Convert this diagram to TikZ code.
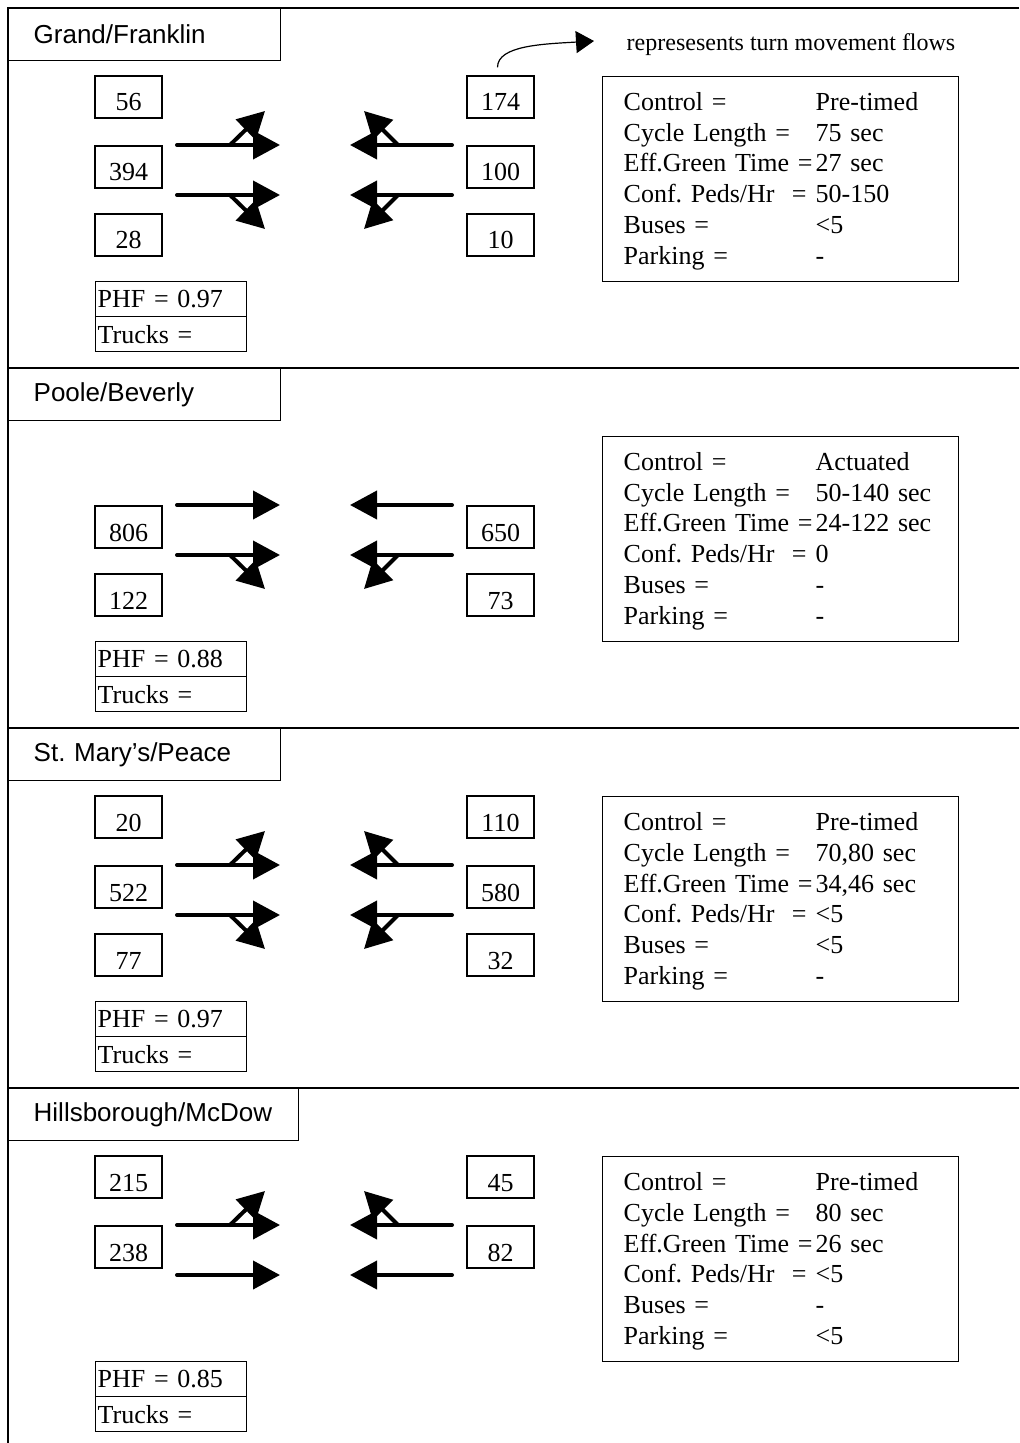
\documentclass[tikz,border=0pt]{standalone}
\usepackage{fontspec}
\setmainfont{Liberation Serif}
\newfontfamily\headfont{Liberation Sans}
\usetikzlibrary{arrows.meta}
\frenchspacing

\newcommand{\inforow}[2]{\makebox[96pt][l]{#1}#2}

\begin{document}
\begin{tikzpicture}[
  x=0.5pt, y=-0.5pt, line width=0.7pt,
  font=\fontsize{13}{15.4}\selectfont,
  title/.style={draw, anchor=north west, text width=#1, minimum height=26pt,
    inner xsep=12.5pt, align=left, font=\headfont\fontsize{13}{15}\selectfont},
  title/.default=111pt,
  numbox/.style={draw, minimum width=33.5pt, minimum height=21pt, inner sep=0pt,
    text height=14pt, text depth=0pt},
  info/.style={draw, anchor=north west, text width=157pt, inner xsep=10.5pt,
    minimum height=102.5pt, text height=11pt, align=left},
  phf/.style={draw, anchor=north west, text width=73.5pt, inner xsep=1pt, inner ysep=0pt,
    minimum height=17.5pt, align=left},
  mvt/.style={line width=2pt, line cap=round, -{Triangle[length=13.5pt,width=14pt]}},
  legarrow/.style={line width=0.6pt, -{Triangle[length=9pt,width=11pt]}}]
  \useasboundingbox (0,0) rectangle (1019,1443);

  % frame and section rules
  \draw (1019,8) -- (8,8) -- (8,1443);
  \draw (8,368) -- (1019,368);
  \draw (8,728) -- (1019,728);
  \draw (8,1088) -- (1019,1088);

  % Grand/Franklin
  \node[title] (gftitle) at (8,8) {Grand/Franklin};
  \node[numbox] (gfE1) at (128.5,97) {56};
  \node[numbox] (gfE2) at (128.5,167) {394};
  \node[numbox] (gfE3) at (128.5,235) {28};
  \node[numbox] (gfW1) at (500.5,97) {174};
  \node[numbox] (gfW2) at (500.5,167) {100};
  \node[numbox] (gfW3) at (500.5,235) {10};
  \draw[mvt] (177,145) -- (280,145);
  \draw[mvt] (177,195) -- (280,195);
  \draw[mvt] (452,145) -- (350,145);
  \draw[mvt] (452,195) -- (350,195);
  \draw[mvt] (230,145) -- (265,111);
  \draw[mvt] (230,195) -- (265,229);
  \draw[mvt] (398,145) -- (364,111);
  \draw[mvt] (398,195) -- (364,229);
  \node[info] (gfinfo) at (602,76) {\inforow{Control =}{Pre-timed}\\
    \inforow{Cycle Length =}{75 sec}\\
    \inforow{Eff.Green Time =}{27 sec}\\
    \inforow{Conf. Peds/Hr\ \ =}{50-150}\\
    \inforow{Buses =}{<5}\\
    \inforow{Parking =}{-}};
  \node[phf] (gfphf) at (95,281) {PHF = 0.97};
  \node[phf] (gftrk) at (95,316) {Trucks =};

  % legend
  \coordinate (legtip) at (594,41);
  \node[font=\fontsize{12}{14}\selectfont] (legend) at (791,45) {represesents turn movement flows};
  \draw[legarrow] ([xshift=-1.5pt,yshift=4pt]gfW1.north) .. controls +(0,-22) and +(-50,3) .. (legtip);

  % Poole/Beverly
  \begin{scope}[shift={(0,360)}]
    \node[title] (pbtitle) at (8,8) {Poole/Beverly};
    \node[numbox] (pbE2) at (128.5,167) {806};
    \node[numbox] (pbE3) at (128.5,235) {122};
    \node[numbox] (pbW2) at (500.5,167) {650};
    \node[numbox] (pbW3) at (500.5,235) {73};
    \draw[mvt] (177,145) -- (280,145);
    \draw[mvt] (177,195) -- (280,195);
    \draw[mvt] (452,145) -- (350,145);
    \draw[mvt] (452,195) -- (350,195);
    \draw[mvt] (230,195) -- (265,229);
    \draw[mvt] (398,195) -- (364,229);
    \node[info] (pbinfo) at (602,76) {\inforow{Control =}{Actuated}\\
      \inforow{Cycle Length =}{50-140 sec}\\
      \inforow{Eff.Green Time =}{24-122 sec}\\
      \inforow{Conf. Peds/Hr\ \ =}{0}\\
      \inforow{Buses =}{-}\\
      \inforow{Parking =}{-}};
    \node[phf] (pbphf) at (95,281) {PHF = 0.88};
    \node[phf] (pbtrk) at (95,316) {Trucks =};
  \end{scope}

  % St. Mary's/Peace
  \begin{scope}[shift={(0,720)}]
    \node[title] (smtitle) at (8,8) {St. Mary’s/Peace};
    \node[numbox] (smE1) at (128.5,97) {20};
    \node[numbox] (smE2) at (128.5,167) {522};
    \node[numbox] (smE3) at (128.5,235) {77};
    \node[numbox] (smW1) at (500.5,97) {110};
    \node[numbox] (smW2) at (500.5,167) {580};
    \node[numbox] (smW3) at (500.5,235) {32};
    \draw[mvt] (177,145) -- (280,145);
    \draw[mvt] (177,195) -- (280,195);
    \draw[mvt] (452,145) -- (350,145);
    \draw[mvt] (452,195) -- (350,195);
    \draw[mvt] (230,145) -- (265,111);
    \draw[mvt] (230,195) -- (265,229);
    \draw[mvt] (398,145) -- (364,111);
    \draw[mvt] (398,195) -- (364,229);
    \node[info] (sminfo) at (602,76) {\inforow{Control =}{Pre-timed}\\
      \inforow{Cycle Length =}{70,80 sec}\\
      \inforow{Eff.Green Time =}{34,46 sec}\\
      \inforow{Conf. Peds/Hr\ \ =}{<5}\\
      \inforow{Buses =}{<5}\\
      \inforow{Parking =}{-}};
    \node[phf] (smphf) at (95,281) {PHF = 0.97};
    \node[phf] (smtrk) at (95,316) {Trucks =};
  \end{scope}

  % Hillsborough/McDow
  \begin{scope}[shift={(0,1080)}]
    \node[title=120pt] (hmtitle) at (8,8) {Hillsborough/McDow};
    \node[numbox] (hmE1) at (128.5,97) {215};
    \node[numbox] (hmE2) at (128.5,167) {238};
    \node[numbox] (hmW1) at (500.5,97) {45};
    \node[numbox] (hmW2) at (500.5,167) {82};
    \draw[mvt] (177,145) -- (280,145);
    \draw[mvt] (177,195) -- (280,195);
    \draw[mvt] (452,145) -- (350,145);
    \draw[mvt] (452,195) -- (350,195);
    \draw[mvt] (230,145) -- (265,111);
    \draw[mvt] (398,145) -- (364,111);
    \node[info] (hminfo) at (602,76) {\inforow{Control =}{Pre-timed}\\
      \inforow{Cycle Length =}{80 sec}\\
      \inforow{Eff.Green Time =}{26 sec}\\
      \inforow{Conf. Peds/Hr\ \ =}{<5}\\
      \inforow{Buses =}{-}\\
      \inforow{Parking =}{<5}};
    \node[phf] (hmphf) at (95,281) {PHF = 0.85};
    \node[phf] (hmtrk) at (95,316) {Trucks =};
  \end{scope}
\end{tikzpicture}
\end{document}
